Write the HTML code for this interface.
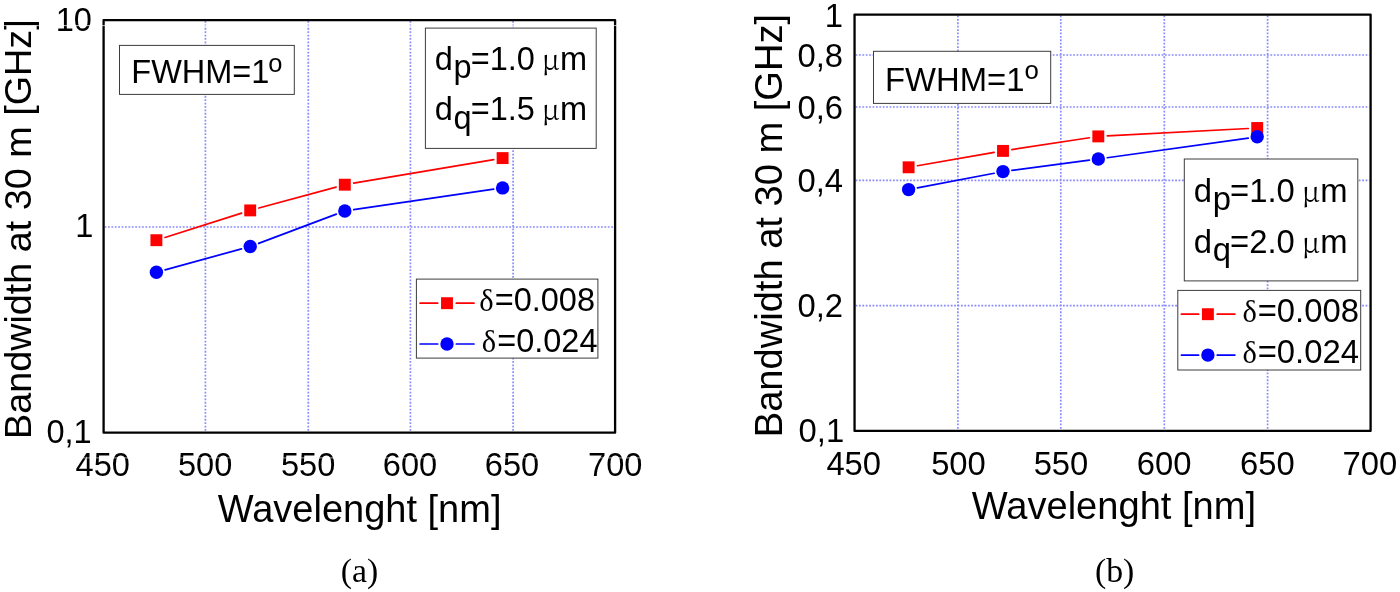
<!DOCTYPE html>
<html lang="en"><head><meta charset="utf-8"><title>Bandwidth at 30 m vs Wavelength</title>
<style>
html,body{margin:0;padding:0;background:#fff;}
body{width:1400px;height:592px;overflow:hidden;}
svg{display:block;}
text{font-family:"Liberation Sans",sans-serif;fill:#000;}
.sym{font-family:"Liberation Serif","DejaVu Serif",serif;}
.mu{font-family:"Noto Serif CJK SC","Liberation Serif",serif;}
.cap{font-family:"Liberation Serif","DejaVu Serif",serif;}
.grid{stroke:#8a8aff;stroke-width:1.7;stroke-dasharray:1.8 1.6;fill:none;}
.frame{fill:none;stroke:#000;stroke-width:2.3;stroke-linejoin:round;}
.box{fill:#fff;stroke:#3c3c3c;stroke-width:1;}
.r{stroke:#ff0000;stroke-width:1.7;fill:none;stroke-linecap:round;}
.b{stroke:#0000ff;stroke-width:1.7;fill:none;stroke-linecap:round;}
</style></head><body>
<svg width="1400" height="592" viewBox="0 0 1400 592">
<rect x="0" y="0" width="1400" height="592" fill="#ffffff"/>
<line class="grid" x1="205.40" y1="21.05" x2="205.40" y2="431.70"/>
<line class="grid" x1="308.30" y1="21.05" x2="308.30" y2="431.70"/>
<line class="grid" x1="410.40" y1="21.05" x2="410.40" y2="431.70"/>
<line class="grid" x1="513.10" y1="21.05" x2="513.10" y2="431.70"/>
<line class="grid" x1="104.60" y1="227.00" x2="614.10" y2="227.00"/>
<line class="r" x1="164.98" y1="237.47" x2="241.62" y2="213.13"/>
<line class="r" x1="258.89" y1="208.04" x2="336.11" y2="187.06"/>
<line class="r" x1="353.67" y1="183.20" x2="493.73" y2="159.60"/>
<line class="b" x1="165.08" y1="269.82" x2="241.52" y2="248.88"/>
<line class="b" x1="258.63" y1="243.34" x2="336.37" y2="214.16"/>
<line class="b" x1="353.71" y1="209.70" x2="493.69" y2="189.20"/>
<rect x="150.45" y="234.25" width="11.9" height="11.9" fill="#ff0000"/>
<rect x="244.25" y="204.45" width="11.9" height="11.9" fill="#ff0000"/>
<rect x="338.85" y="178.75" width="11.9" height="11.9" fill="#ff0000"/>
<rect x="496.65" y="152.15" width="11.9" height="11.9" fill="#ff0000"/>
<circle cx="156.40" cy="272.20" r="6.70" fill="#0000ff"/>
<circle cx="250.20" cy="246.50" r="6.70" fill="#0000ff"/>
<circle cx="344.80" cy="211.00" r="6.70" fill="#0000ff"/>
<circle cx="502.60" cy="187.90" r="6.70" fill="#0000ff"/>
<rect class="frame" x="103.6" y="20.05" width="511.50" height="412.65"/>
<text x="102.80" y="476.4" font-size="32.6" text-anchor="middle">450</text>
<text x="205.10" y="476.4" font-size="32.6" text-anchor="middle">500</text>
<text x="308.10" y="476.4" font-size="32.6" text-anchor="middle">550</text>
<text x="410.00" y="476.4" font-size="32.6" text-anchor="middle">600</text>
<text x="512.00" y="476.4" font-size="32.6" text-anchor="middle">650</text>
<text x="615.30" y="476.4" font-size="32.6" text-anchor="middle">700</text>
<text x="92" y="30.60" font-size="32.6" text-anchor="end">10</text>
<text x="93.3" y="237.00" font-size="32.6" text-anchor="end">1</text>
<text x="91.7" y="443.00" font-size="32.6" text-anchor="end">0,1</text>
<text x="359.6" y="521.8" font-size="38.0" text-anchor="middle">Wavelenght [nm]</text>
<text transform="translate(30.6,229.2) rotate(-90)" font-size="37.75" text-anchor="middle">Bandwidth at 30 m [GHz]</text>
<text class="cap" x="359.5" y="582.4" font-size="33.8" text-anchor="middle">(a)</text>
<rect class="box" x="119.5" y="45.4" width="174.80" height="49.00"/>
<text x="131.3" y="82.8" font-size="32.5">FWHM=1<tspan dx="-1.2" dy="-10.4" font-size="25.5">o</tspan></text>
<rect class="box" x="425.4" y="28.1" width="170.80" height="120.30"/>
<text x="434.8" y="69.9" font-size="32.5">d<tspan dx="0.7" dy="8.4">p</tspan><tspan dx="-0.9" dy="-8.4">=1.0 </tspan><tspan class="mu" dx="-2.2" font-size="28.5">μ</tspan><tspan dx="0.3">m</tspan></text>
<text x="434.8" y="120.3" font-size="32.5">d<tspan dx="0.7" dy="8.4">q</tspan><tspan dx="-0.9" dy="-8.4">=1.5 </tspan><tspan class="mu" dx="-2.2" font-size="28.5">μ</tspan><tspan dx="0.3">m</tspan></text>
<rect class="box" x="416.4" y="279.1" width="181.50" height="79.00"/>
<line class="r" x1="420.1" y1="303.2" x2="437.7" y2="303.2"/>
<line class="r" x1="456.3" y1="303.2" x2="474" y2="303.2"/>
<rect x="441.05" y="297.25" width="11.9" height="11.9" fill="#ff0000"/>
<text x="479.3" y="311.1" font-size="32.5"><tspan class="sym" font-size="30.5">δ</tspan><tspan dx="1.0">=0.008</tspan></text>
<line class="b" x1="420.1" y1="344" x2="437.7" y2="344"/>
<line class="b" x1="456.3" y1="344" x2="474" y2="344"/>
<circle cx="447" cy="344" r="6.70" fill="#0000ff"/>
<text x="481.8" y="351.7" font-size="32.5"><tspan class="sym" font-size="30.5">δ</tspan><tspan dx="1.0">=0.024</tspan></text>
<line class="grid" x1="957.90" y1="15.55" x2="957.90" y2="429.90"/>
<line class="grid" x1="1060.80" y1="15.55" x2="1060.80" y2="429.90"/>
<line class="grid" x1="1164.30" y1="15.55" x2="1164.30" y2="429.90"/>
<line class="grid" x1="1267.60" y1="15.55" x2="1267.60" y2="429.90"/>
<line class="grid" x1="855.55" y1="55.00" x2="1369.60" y2="55.00"/>
<line class="grid" x1="855.55" y1="107.00" x2="1369.60" y2="107.00"/>
<line class="grid" x1="855.55" y1="180.40" x2="1369.60" y2="180.40"/>
<line class="grid" x1="855.55" y1="305.60" x2="1369.60" y2="305.60"/>
<line class="r" x1="917.47" y1="165.76" x2="994.13" y2="152.44"/>
<line class="r" x1="1011.90" y1="149.55" x2="1089.40" y2="137.75"/>
<line class="r" x1="1107.29" y1="135.92" x2="1248.21" y2="128.48"/>
<line class="b" x1="917.44" y1="187.91" x2="994.16" y2="173.29"/>
<line class="b" x1="1011.92" y1="170.42" x2="1089.38" y2="160.18"/>
<line class="b" x1="1107.21" y1="157.75" x2="1248.29" y2="138.05"/>
<rect x="902.65" y="161.35" width="11.9" height="11.9" fill="#ff0000"/>
<rect x="997.05" y="144.95" width="11.9" height="11.9" fill="#ff0000"/>
<rect x="1092.35" y="130.45" width="11.9" height="11.9" fill="#ff0000"/>
<rect x="1251.25" y="122.05" width="11.9" height="11.9" fill="#ff0000"/>
<circle cx="908.60" cy="189.60" r="6.70" fill="#0000ff"/>
<circle cx="1003.00" cy="171.60" r="6.70" fill="#0000ff"/>
<circle cx="1098.30" cy="159.00" r="6.70" fill="#0000ff"/>
<circle cx="1257.20" cy="136.80" r="6.70" fill="#0000ff"/>
<rect class="frame" x="854.55" y="14.55" width="516.05" height="416.35"/>
<text x="853.75" y="474.6" font-size="32.8" text-anchor="middle">450</text>
<text x="958.50" y="474.6" font-size="32.8" text-anchor="middle">500</text>
<text x="1061.00" y="474.6" font-size="32.8" text-anchor="middle">550</text>
<text x="1164.20" y="474.6" font-size="32.8" text-anchor="middle">600</text>
<text x="1267.40" y="474.6" font-size="32.8" text-anchor="middle">650</text>
<text x="1369.90" y="474.6" font-size="32.8" text-anchor="middle">700</text>
<text x="843" y="26.60" font-size="32.8" text-anchor="end">1</text>
<text x="843" y="66.70" font-size="32.8" text-anchor="end">0,8</text>
<text x="843" y="118.50" font-size="32.8" text-anchor="end">0,6</text>
<text x="843" y="191.80" font-size="32.8" text-anchor="end">0,4</text>
<text x="843" y="317.20" font-size="32.8" text-anchor="end">0,2</text>
<text x="844.2" y="441.90" font-size="32.8" text-anchor="end">0,1</text>
<text x="1113.9" y="519.3" font-size="38.1" text-anchor="middle">Wavelenght [nm]</text>
<text transform="translate(781.9,225.6) rotate(-90)" font-size="38.1" text-anchor="middle">Bandwidth at 30 m [GHz]</text>
<text class="cap" x="1114.6" y="582.3" font-size="33.8" text-anchor="middle">(b)</text>
<rect class="box" x="873.5" y="51.3" width="177.20" height="52.10"/>
<text x="885" y="91.2" font-size="32.8">FWHM=1<tspan dx="0" dy="-12.5" font-size="25.8">o</tspan></text>
<rect class="box" x="1184.3" y="159" width="173.50" height="121.90"/>
<text x="1193.8" y="201.6" font-size="32.8">d<tspan dx="0.7" dy="8.4">p</tspan><tspan dx="-0.9" dy="-8.4">=1.0 </tspan><tspan class="mu" dx="-2.2" font-size="29.0">μ</tspan><tspan dx="0.3">m</tspan></text>
<text x="1193.8" y="252.9" font-size="32.8">d<tspan dx="0.7" dy="8.4">q</tspan><tspan dx="-0.9" dy="-8.4">=2.0 </tspan><tspan class="mu" dx="-2.2" font-size="29.0">μ</tspan><tspan dx="0.3">m</tspan></text>
<rect class="box" x="1177.8" y="290.4" width="182.90" height="79.60"/>
<line class="r" x1="1181.4" y1="314.2" x2="1198.6000000000001" y2="314.2"/>
<line class="r" x1="1217.2" y1="314.2" x2="1234.9" y2="314.2"/>
<rect x="1201.95" y="308.25" width="11.9" height="11.9" fill="#ff0000"/>
<text x="1242.4" y="321.9" font-size="32.8"><tspan class="sym" font-size="30.5">δ</tspan><tspan dx="0.9">=0.008</tspan></text>
<line class="b" x1="1181.4" y1="355.1" x2="1198.6000000000001" y2="355.1"/>
<line class="b" x1="1217.2" y1="355.1" x2="1234.9" y2="355.1"/>
<circle cx="1207.9" cy="355.1" r="6.70" fill="#0000ff"/>
<text x="1242.4" y="362.8" font-size="32.8"><tspan class="sym" font-size="30.5">δ</tspan><tspan dx="0.9">=0.024</tspan></text>
<line x1="0" y1="25.6" x2="618" y2="25.6" stroke="#fff" stroke-width="0.7"/>
<line x1="0" y1="457.9" x2="660" y2="457.9" stroke="#fff" stroke-width="0.6"/>
</svg></body></html>
